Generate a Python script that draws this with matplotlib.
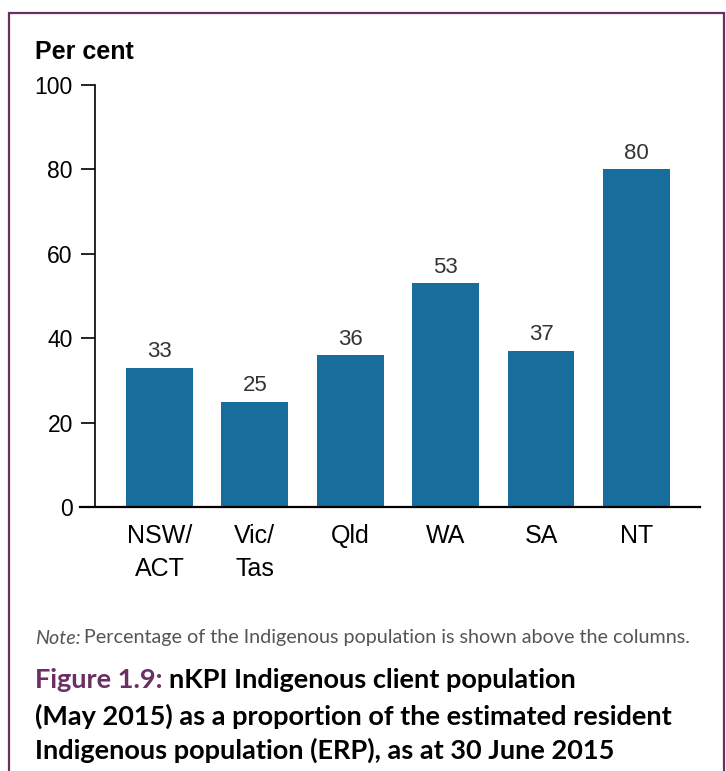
import matplotlib
matplotlib.use('Agg')
import matplotlib.pyplot as plt
from matplotlib.patches import Rectangle

# 各州のデータ
states = ['NSW/\nACT', 'Vic/\nTas', 'Qld', 'WA', 'SA', 'NT']
percent = [33, 25, 36, 53, 37, 80]
y_ticks = [0, 20, 40, 60, 80, 100]

bar_color = '#176d9c'
purple = '#6b2f63'

W, H = 726, 771
fig = plt.figure(figsize=(W / 100, H / 100), dpi=100)
plt.rcParams['font.family'] = ['Liberation Sans', 'DejaVu Sans']

ax = fig.add_axes([95 / W, 1 - 507 / H, (700 - 95) / W, (507 - 85) / H])
x = list(range(len(states)))
bars = ax.bar(x, percent, width=0.70, color=bar_color, zorder=2)

ax.set_ylim(0, 100)
ax.set_yticks(y_ticks)
ax.set_yticklabels([str(v) for v in y_ticks], fontsize=16.5)
ax.set_xticks(x)
ax.set_xticklabels(states, fontsize=18, linespacing=1.5)
ax.tick_params(axis='x', length=0, pad=12)
ax.tick_params(axis='y', length=10, width=1.2, pad=6, direction='out')

for s in ['top', 'right']:
    ax.spines[s].set_visible(False)
ax.spines['left'].set_linewidth(1.2)
ax.spines['bottom'].set_linewidth(1.6)
ax.spines['bottom'].set_bounds(-0.83, 5.666)
ax.spines['bottom'].set_zorder(3)
ax.set_xlim(-0.676, 5.666)

# 棒の上に値を表示
for b, v in zip(bars, percent):
    ax.annotate(str(v), (b.get_x() + b.get_width() / 2, v),
                xytext=(0, 4), textcoords='offset points',
                ha='center', va='bottom', fontsize=16, color='#333333')

fig.text(35 / W, 1 - 52 / H, 'Per cent', fontsize=18, fontweight='bold',
         ha='left', va='center')

# 注記
note_y = 1 - 638 / H
t1 = fig.text(35 / W, note_y, 'Note:', fontsize=14.2, style='italic',
              color='#555555', family='Lato', va='center')
r = fig.canvas.get_renderer()
bb = t1.get_window_extent(renderer=r)
fig.text(bb.x1 / W + 3 / W, note_y,
         'Percentage of the Indigenous population is shown above the columns.',
         fontsize=14.2, color='#555555', family='Lato', va='center')

# 図のタイトル
cap_font = dict(fontsize=19.5, fontweight='bold', family='Lato', va='center')
t2 = fig.text(35 / W, 1 - 680 / H, 'Figure 1.9:', color=purple, **cap_font)
bb = t2.get_window_extent(renderer=r)
fig.text(bb.x1 / W + 6 / W, 1 - 680 / H, 'nKPI Indigenous client population',
         color='black', **cap_font)
fig.text(35 / W, 1 - 716 / H, '(May 2015) as a proportion of the estimated resident',
         color='black', **cap_font)
fig.text(35 / W, 1 - 750 / H, 'Indigenous population (ERP), as at 30 June 2015',
         color='black', **cap_font)

# 枠線
fig.add_artist(Rectangle((9 / W, -0.05), (724 - 9) / W, 1.05 - 13 / H,
                         transform=fig.transFigure, fill=False,
                         edgecolor=purple, linewidth=1.6))

fig.savefig('out.png', dpi=100)
